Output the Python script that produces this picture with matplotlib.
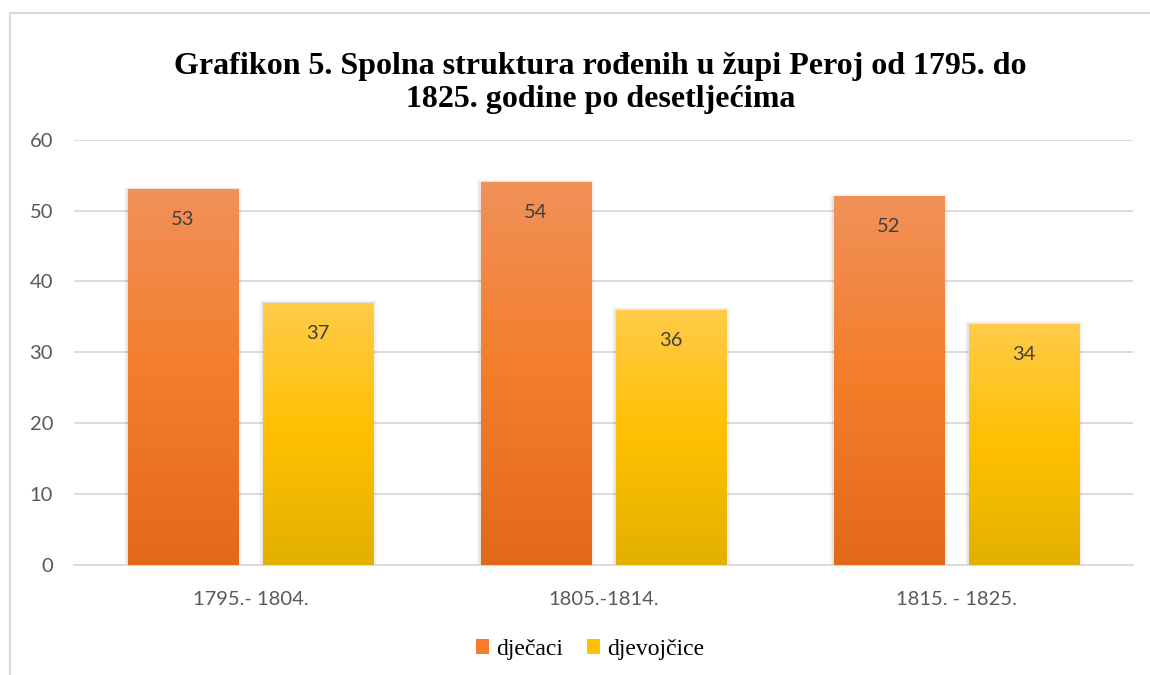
import numpy as np
import matplotlib.pyplot as plt
from matplotlib.colors import LinearSegmentedColormap
from matplotlib.patches import Rectangle, Patch

categories = ["1795.- 1804.", "1805.-1814.", "1815. - 1825."]
boys  = [53, 54, 52]
girls = [37, 36, 34]
series_names = ["dječaci", "djevojčice"]
title = "Grafikon 5. Spolna struktura rođenih u župi Peroj od 1795. do\n1825. godine po desetljećima"

BOY_COLS  = ["#F19159", "#F47D2A", "#E2691A"]
GIRL_COLS = ["#FFCB4A", "#FFC000", "#E3B000"]
TICK_FONT = "Lato"
SERIF = "Liberation Serif"


def gradient_bars(ax, bars, cols):
    cmap = LinearSegmentedColormap.from_list("g", cols[::-1])
    grad = np.linspace(0, 1, 256).reshape(-1, 1)
    for b in bars:
        x, y = b.get_x(), b.get_y()
        w, h = b.get_width(), b.get_height()
        # soft shadow
        for k, a in enumerate([0.05, 0.035, 0.02]):
            ax.add_patch(Rectangle((x - 0.004 * (k + 1), y), w + 0.008 * (k + 1),
                                   h + 0.12 * (k + 1), facecolor="black",
                                   alpha=a, lw=0, zorder=2))
        im = ax.imshow(grad, extent=(x, x + w, y, y + h), origin="lower",
                       aspect="auto", cmap=cmap, zorder=3)
        im.set_clip_path(b)


fig = plt.figure(figsize=(11.5, 6.75), dpi=100)
ax = fig.add_axes([0.0643, 0.163, 0.9207, 0.630])

x = np.arange(len(categories))
w = 0.312
off = (w + 0.071) / 2
b1 = ax.bar(x - off, boys, w, color="none", lw=0, zorder=3)
b2 = ax.bar(x + off, girls, w, color="none", lw=0, zorder=3)
gradient_bars(ax, b1, BOY_COLS)
gradient_bars(ax, b2, GIRL_COLS)

for bars, vals in [(b1, boys), (b2, girls)]:
    for b, v in zip(bars, vals):
        ax.text(b.get_x() + b.get_width() / 2, v - 4.3, str(v), ha="center",
                va="center", fontsize=14.5, color="#404040", family=TICK_FONT,
                zorder=5)

ax.set_xlim(-0.5, len(categories) - 0.5)
ax.set_ylim(0, 60)
ax.set_yticks(range(0, 61, 10))
ax.yaxis.grid(True, color="#D9D9D9", lw=1.3, zorder=0)
ax.set_axisbelow(True)
for s in ["top", "right", "left"]:
    ax.spines[s].set_visible(False)
ax.spines["bottom"].set_color("#D9D9D9")
ax.spines["bottom"].set_linewidth(1.3)
ax.tick_params(length=0, labelsize=14.5, labelcolor="#595959")
ax.tick_params(axis="y", pad=15)
ax.tick_params(axis="x", pad=19)
ax.set_xticks(x)
ax.set_xticklabels(categories)
for lab in ax.get_xticklabels() + ax.get_yticklabels():
    lab.set_family(TICK_FONT)

fig.text(0.522, 0.877, title, ha="center", va="center", fontsize=23,
         fontweight="bold", family=SERIF, linespacing=1.2)

handles = [Patch(facecolor=BOY_COLS[1]), Patch(facecolor=GIRL_COLS[1])]
fig.legend(handles, series_names, loc="center", bbox_to_anchor=(0.513, 0.038),
           ncol=2, frameon=False, prop={"family": SERIF, "size": 17},
           handlelength=0.55, handleheight=0.55, handletextpad=0.3,
           columnspacing=1.0)

fig.add_artist(Rectangle((10 / 1150, -0.1), 1.2, 1 - 13 / 675 + 0.1,
                         transform=fig.transFigure, fill=False,
                         edgecolor="#D9D9D9", lw=1.5))

fig.savefig("out.png", dpi=100)
